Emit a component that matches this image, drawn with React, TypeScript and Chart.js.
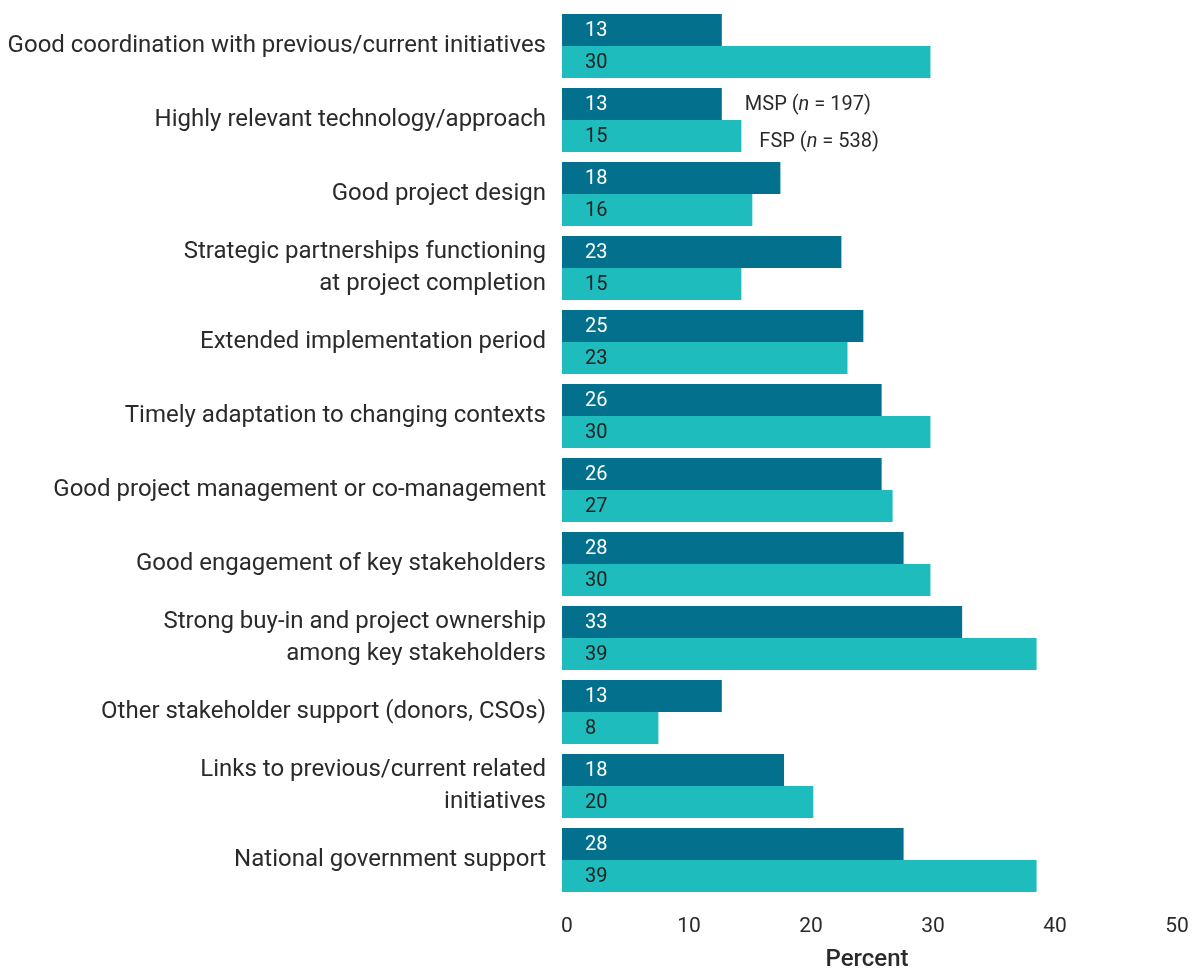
import { useEffect, useRef } from "react";
import { Chart, registerables } from "chart.js";

Chart.register(...registerables);

const categories: string[][] = [
  ["Good coordination with previous/current initiatives"],
  ["Highly relevant technology/approach"],
  ["Good project design"],
  ["Strategic partnerships functioning", "at project completion"],
  ["Extended implementation period"],
  ["Timely adaptation to changing contexts"],
  ["Good project management or co-management"],
  ["Good engagement of key stakeholders"],
  ["Strong buy-in and project ownership", "among key stakeholders"],
  ["Other stakeholder support (donors, CSOs)"],
  ["Links to previous/current related", "initiatives"],
  ["National government support"],
];

const mspValues = [13.1, 13.1, 17.9, 22.9, 24.7, 26.2, 26.2, 28.0, 32.8, 13.1, 18.2, 28.0];
const fspValues = [30.2, 14.7, 15.6, 14.7, 23.4, 30.2, 27.1, 30.2, 38.9, 7.9, 20.6, 38.9];
const mspLabels = ["13", "13", "18", "23", "25", "26", "26", "28", "33", "13", "18", "28"];
const fspLabels = ["30", "15", "16", "15", "23", "30", "27", "30", "39", "8", "20", "39"];
const xTicks = [0, 10, 20, 30, 40, 50];

const mspName = "MSP";
const mspN = "197";
const fspName = "FSP";
const fspN = "538";

const FONT = "Roboto, 'Noto Sans', sans-serif";
const TEXT = "#2a2a2a";
const MSP_COLOR = "#03718e";
const FSP_COLOR = "#1ebcbd";

const barLabelPlugin = {
  id: "barLabels",
  afterDatasetsDraw(chart: any) {
    const ctx = chart.ctx;
    ctx.save();
    ctx.font = `400 20px ${FONT}`;
    ctx.textAlign = "left";
    ctx.textBaseline = "middle";
    const sets = [
      { labels: mspLabels, color: "#ffffff" },
      { labels: fspLabels, color: "#222222" },
    ];
    sets.forEach((s, di) => {
      const meta = chart.getDatasetMeta(di);
      meta.data.forEach((bar: any, i: number) => {
        ctx.fillStyle = s.color;
        ctx.fillText(s.labels[i], bar.base + 23, bar.y + 1);
      });
    });

    // legend text next to second category
    const drawLegend = (name: string, n: string, x: number, y: number) => {
      ctx.fillStyle = TEXT;
      ctx.font = `400 20px ${FONT}`;
      const a = `${name} (`;
      ctx.fillText(a, x, y);
      let cx = x + ctx.measureText(a).width;
      ctx.font = `italic 400 20px ${FONT}`;
      ctx.fillText("n", cx, y);
      cx += ctx.measureText("n").width;
      ctx.font = `400 20px ${FONT}`;
      ctx.fillText(` = ${n})`, cx, y);
    };
    const m0 = chart.getDatasetMeta(0).data[1];
    const m1 = chart.getDatasetMeta(1).data[1];
    drawLegend(mspName, mspN, m0.x + 23, m0.y + 1);
    drawLegend(fspName, fspN, m1.x + 18, m1.y + 6);
    ctx.restore();
  },
};

export default function App() {
  const ref = useRef<HTMLCanvasElement | null>(null);

  useEffect(() => {
    if (!ref.current) return;
    const chart = new Chart(ref.current, {
      type: "bar",
      data: {
        labels: categories,
        datasets: [
          {
            label: mspName,
            data: mspValues,
            backgroundColor: MSP_COLOR,
            borderWidth: 0,
            barPercentage: 1,
            categoryPercentage: 0.865,
          },
          {
            label: fspName,
            data: fspValues,
            backgroundColor: FSP_COLOR,
            borderWidth: 0,
            barPercentage: 1,
            categoryPercentage: 0.865,
          },
        ],
      },
      options: {
        indexAxis: "y",
        responsive: false,
        animation: false,
        layout: { padding: { top: 9, right: 20, bottom: 0, left: 0 } },
        plugins: {
          legend: { display: false },
          tooltip: { enabled: false },
        },
        scales: {
          x: {
            type: "linear",
            min: 0,
            max: 50,
            afterBuildTicks: (scale: any) => {
              scale.ticks = xTicks.map((v) => ({ value: v }));
            },
            afterFit: (scale: any) => {
              scale.height = 72;
              scale.paddingLeft = 0;
              scale.paddingRight = 0;
            },
            grid: { display: false, drawTicks: false },
            border: { display: false },
            ticks: {
              padding: 17,
              labelOffset: 5,
              color: TEXT,
              font: { family: FONT, size: 21 },
            },
            title: {
              display: true,
              text: "Percent",
              color: TEXT,
              padding: { top: 0, bottom: 0 },
              font: { family: FONT, size: 24, weight: "500", lineHeight: 0.75 },
            },
          },
          y: {
            afterFit: (scale: any) => {
              scale.width = 562;
              scale.paddingTop = 0;
              scale.paddingBottom = 0;
            },
            grid: { display: false, drawTicks: false },
            border: { display: false },
            ticks: {
              padding: 16,
              color: TEXT,
              autoSkip: false,
              font: { family: FONT, size: 24, lineHeight: 1.3 },
            },
          },
        },
      },
      plugins: [barLabelPlugin],
    } as any);
    return () => chart.destroy();
  }, []);

  return (
    <div style={{ position: "absolute", left: 0, top: 0, width: 1192, height: 969, background: "#fff" }}>
      <canvas ref={ref} width={1192} height={969} style={{ display: "block" }} />
    </div>
  );
}
